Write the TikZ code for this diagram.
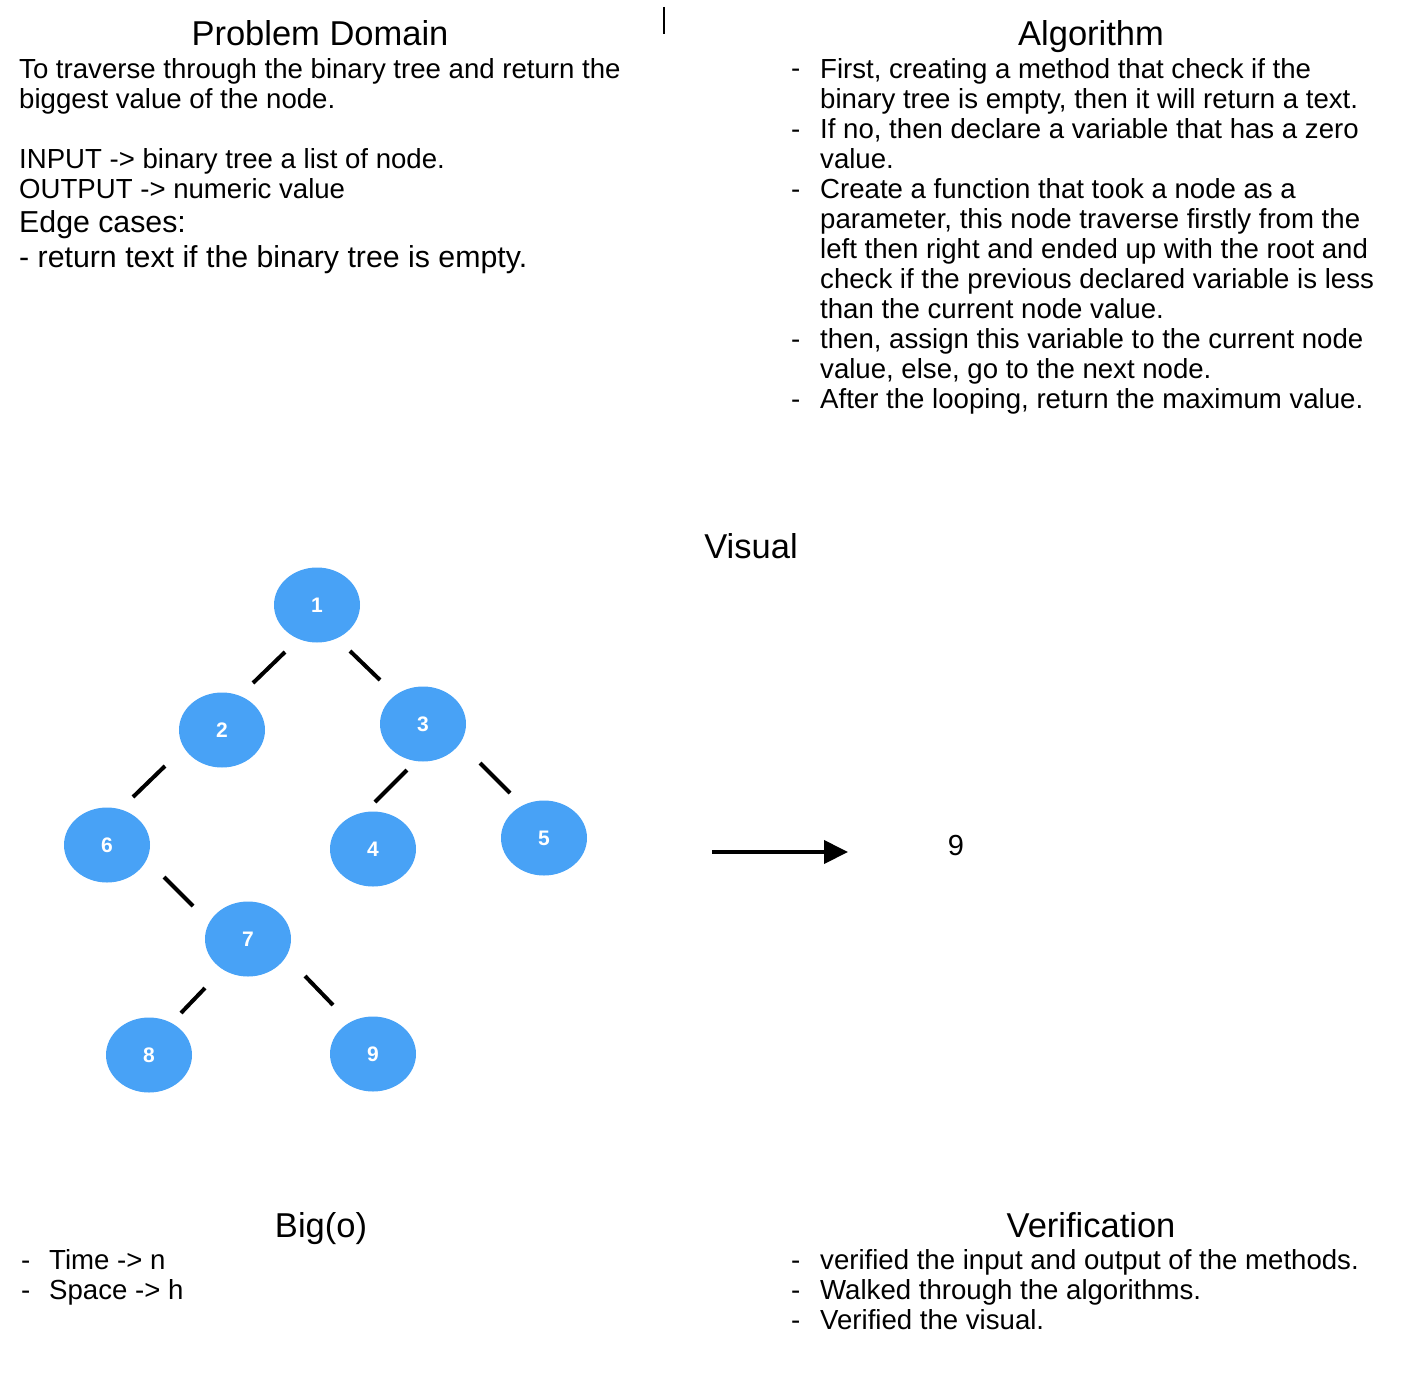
\documentclass[tikz,border=0pt]{standalone}
\usepackage{fontspec}
\setmainfont{Liberation Sans}
\usetikzlibrary{arrows.meta,shapes.geometric}
\pgfdeclarelayer{edgelayer}
\pgfdeclarelayer{nodelayer}
\pgfsetlayers{edgelayer,nodelayer,main}
\definecolor{treeblue}{RGB}{72,162,246}
\tikzstyle{none}=[inner sep=0pt]
\tikzstyle{title}=[inner sep=0pt,anchor=base,font=\fontsize{34.5}{40}\selectfont]
\tikzstyle{body}=[inner sep=0pt,anchor=base west,align=left,font=\fontsize{27.6}{30}\selectfont]
\tikzstyle{tnode}=[ellipse,fill=treeblue,minimum width=86pt,minimum height=75pt,inner sep=0pt,text=white,font=\fontsize{21}{25}\selectfont\bfseries]
\tikzstyle{branch}=[line width=4pt]

\begin{document}
\begin{tikzpicture}[x=1pt,y=-1pt]
	\useasboundingbox (0,0) rectangle (1404,1378);
	\begin{pgfonlayer}{nodelayer}
		% headings
		\node [style=title] (pdtitle) at (320, 46) {Problem Domain};
		\node [style=title] (algtitle) at (1091, 46) {Algorithm};
		\node [style=title] (vistitle) at (751, 558) {Visual};
		\node [style=title] (bigtitle) at (321, 1237) {Big(o)};
		\node [style=title] (vertitle) at (1091, 1237) {Verification};
		% problem domain (placed at the baseline of the last line)
		\node [style=body] (pdtext) at (19, 198) {To traverse through the binary tree and return the\\biggest value of the node.\\[30pt]INPUT -> binary tree a list of node.\\OUTPUT -> numeric value};
		\node [style=body,font=\fontsize{30.3}{35}\selectfont] (edgetext) at (19, 267) {Edge cases:\\- return text if the binary tree is empty.};
		% algorithm
		\node [style=body] (algtext) at (820, 408) {First, creating a method that check if the\\binary tree is empty, then it will return a text.\\If no, then declare a variable that has a zero\\value.\\Create a function that took a node as a\\parameter, this node traverse firstly from the\\left then right and ended up with the root and\\check if the previous declared variable is less\\than the current node value.\\then, assign this variable to the current node\\value, else, go to the next node.\\After the looping, return the maximum value.};
		\foreach \y [count=\i] in {78,138,198,348,408}
			\node [style=body] (algdash\i) at (791, \y) {-};
		% big o
		\node [style=body] (bigtext) at (49, 1299) {Time -> n\\Space -> h};
		\foreach \y [count=\i] in {1269,1299}
			\node [style=body] (bigdash\i) at (21, \y) {-};
		% verification
		\node [style=body] (vertext) at (820, 1329) {verified the input and output of the methods.\\Walked through the algorithms.\\Verified the visual.};
		\foreach \y [count=\i] in {1269,1299,1329}
			\node [style=body] (verdash\i) at (791, \y) {-};
		% tree
		\node [style=tnode] (t1) at (317, 605) {1};
		\node [style=tnode] (t2) at (222, 730) {2};
		\node [style=tnode] (t3) at (423, 724) {3};
		\node [style=tnode] (t6) at (107, 845) {6};
		\node [style=tnode] (t4) at (373, 849) {4};
		\node [style=tnode] (t5) at (544, 838) {5};
		\node [style=tnode] (t7) at (248, 939) {7};
		\node [style=tnode] (t8) at (149, 1055) {8};
		\node [style=tnode] (t9) at (373, 1054) {9};
		% branch ends
		\node [style=none] (b12a) at (285, 652) {};
		\node [style=none] (b12b) at (253, 683) {};
		\node [style=none] (b13a) at (350, 651) {};
		\node [style=none] (b13b) at (380, 680) {};
		\node [style=none] (b26a) at (165, 766) {};
		\node [style=none] (b26b) at (133, 797) {};
		\node [style=none] (b34a) at (407, 770) {};
		\node [style=none] (b34b) at (375, 802) {};
		\node [style=none] (b35a) at (480, 763) {};
		\node [style=none] (b35b) at (510, 793) {};
		\node [style=none] (b67a) at (164, 877) {};
		\node [style=none] (b67b) at (193, 906) {};
		\node [style=none] (b78a) at (205, 988) {};
		\node [style=none] (b78b) at (181, 1013) {};
		\node [style=none] (b79a) at (305, 976) {};
		\node [style=none] (b79b) at (333, 1005) {};
		% result
		\node [style=none] (arrowfrom) at (712, 852) {};
		\node [style=none] (arrowto) at (848, 852) {};
		\node [style=none,anchor=base,font=\fontsize{29}{34}\selectfont] (result) at (956, 855) {9};
		\node [style=none] (bar0) at (664, 7) {};
		\node [style=none] (bar1) at (664, 34) {};
	\end{pgfonlayer}
	\begin{pgfonlayer}{edgelayer}
		\draw [style=branch] (b12a.center) to (b12b.center);
		\draw [style=branch] (b13a.center) to (b13b.center);
		\draw [style=branch] (b26a.center) to (b26b.center);
		\draw [style=branch] (b34a.center) to (b34b.center);
		\draw [style=branch] (b35a.center) to (b35b.center);
		\draw [style=branch] (b67a.center) to (b67b.center);
		\draw [style=branch] (b78a.center) to (b78b.center);
		\draw [style=branch] (b79a.center) to (b79b.center);
		\draw [line width=4pt, -{Triangle[length=24pt,width=23pt]}] (arrowfrom.center) to (arrowto.center);
		\draw [line width=2pt] (bar0.center) to (bar1.center);
	\end{pgfonlayer}
\end{tikzpicture}
\end{document}
